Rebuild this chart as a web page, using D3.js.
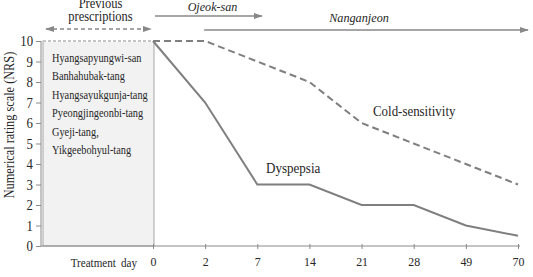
<!DOCTYPE html>
<html>
<head>
<meta charset="utf-8">
<script src="https://cdn.jsdelivr.net/npm/d3@7"></script>
<style>
  body { margin: 0; background: #fff; }
</style>
</head>
<body>
<script>
var width = 533;
var height = 277;
var fontName = "'Liberation Serif'";
var textColor = "#262626";

// chart data
var days = ["0", "2", "7", "14", "21", "28", "49", "70"];
var dyspepsia = [10, 7, 3, 3, 2, 2, 1, 0.5];
var coldSensitivity = [10, 10, 9, 8, 6, 5, 4, 3];
var yTicks = [0, 1, 2, 3, 4, 5, 6, 7, 8, 9, 10];
var previousRx = ["Hyangsapyungwi-san", "Banhahubak-tang", "Hyangsayukgunja-tang",
  "Pyeongjingeonbi-tang", "Gyeji-tang,", "Yikgeebohyul-tang"];

var lineColor = "#7f7f7f";

var svg = d3.select("body").append("svg")
  .attr("width", width)
  .attr("height", height);

// the reference type is a narrow Times; squeeze each text a bit
function squeeze(sel, f) {
  sel.each(function() {
    var w = this.getComputedTextLength();
    d3.select(this)
      .attr("textLength", w * f)
      .attr("lengthAdjust", "spacingAndGlyphs");
  });
}

var defs = svg.append("defs");
defs.append("marker")
  .attr("id", "arrow")
  .attr("viewBox", "0 0 10 10")
  .attr("refX", 9).attr("refY", 5)
  .attr("markerWidth", 7).attr("markerHeight", 7)
  .attr("orient", "auto-start-reverse")
  .append("path")
  .attr("d", "M0,1.5 L10,5 L0,8.5 z")
  .attr("fill", "#888");

var x = d3.scalePoint().domain(days).range([153, 518]);
var y = d3.scaleLinear().domain([0, 10]).range([246, 41]);
var axisLeft = 41;

// grey box for previous prescriptions
svg.append("rect")
  .attr("x", axisLeft + 2)
  .attr("y", y(10))
  .attr("width", x("0") + 1 - axisLeft - 2)
  .attr("height", y(0) - y(10))
  .attr("fill", "#f2f2f2")
  .attr("stroke", "#a6a6a6")
  .attr("stroke-width", 1);

svg.append("line")
  .attr("x1", axisLeft + 2).attr("x2", x("0"))
  .attr("y1", y(10)).attr("y2", y(10))
  .attr("stroke", "#fff").attr("stroke-width", 2);
svg.append("line")
  .attr("x1", axisLeft + 2).attr("x2", x("0"))
  .attr("y1", y(10)).attr("y2", y(10))
  .attr("stroke", "#8a8a8a").attr("stroke-width", 1)
  .attr("stroke-dasharray", "3,2");

var rxText = svg.selectAll(".rx")
  .data(previousRx)
  .enter()
  .append("text")
  .attr("class", "rx")
  .attr("x", 52)
  .attr("y", function(d, i) { return 62 + i * 18.4; })
  .attr("font-size", 12)
  .style("font-family", fontName)
  .style("fill", textColor)
  .text(function(d) { return d; });

// y axis
var gy = svg.append("g")
  .attr("transform", "translate(" + axisLeft + ",0)")
  .call(d3.axisLeft(y).tickValues(yTicks).tickSize(5).tickPadding(3));
gy.selectAll("path, line").attr("stroke", "#8a8a8a");
gy.select(".domain").attr("d", "M0," + y(10) + "V" + y(0));
gy.selectAll("text").attr("font-size", 14.5);

// x axis
var gx = svg.append("g")
  .attr("transform", "translate(0," + y(0) + ")")
  .call(d3.axisBottom(x).tickSize(0).tickPadding(10));
gx.select(".domain").attr("d", "M" + axisLeft + ",0H" + (x("70") + 2)).attr("stroke", "#8a8a8a");
gx.selectAll(".tick line").attr("y1", -2).attr("y2", 3).attr("stroke", "#8a8a8a");
gx.selectAll("text").attr("font-size", 13.5);

var axisText = svg.selectAll("g text")
  .style("font-family", fontName)
  .style("fill", textColor);

// free-standing labels
function label(xp, yp, size, anchor, txt, italic) {
  return svg.append("text")
    .attr("x", xp).attr("y", yp)
    .attr("font-size", size)
    .attr("text-anchor", anchor)
    .attr("font-style", italic ? "italic" : "normal")
    .style("font-family", fontName)
    .style("fill", textColor)
    .text(txt);
}

var treat = label(137, y(0) + 21, 13.5, "end", "Treatment day").attr("word-spacing", 3);

var yTitle = svg.append("text")
  .attr("transform", "translate(14,125) rotate(-90)")
  .attr("text-anchor", "middle")
  .attr("font-size", 15)
  .style("font-family", fontName)
  .style("fill", textColor)
  .text("Numerical rating scale (NRS)");

// lines
var line = d3.line()
  .x(function(d, i) { return x(days[i]); })
  .y(function(d) { return y(d); });

svg.append("path")
  .datum(coldSensitivity)
  .attr("d", line)
  .attr("fill", "none")
  .attr("stroke", lineColor)
  .attr("stroke-width", 2)
  .attr("stroke-dasharray", "7,4");

svg.append("path")
  .datum(dyspepsia)
  .attr("d", line)
  .attr("fill", "none")
  .attr("stroke", lineColor)
  .attr("stroke-width", 2);

var coldLabel = label(373, 116, 15, "start", "Cold-sensitivity");
var dysLabel = label(266, 173, 15, "start", "Dyspepsia");

// treatment period annotations
var prev1 = label(100.5, 7.5, 14.5, "middle", "Previous");
var prev2 = label(100.5, 20.5, 14.5, "middle", "prescriptions");

svg.append("line")
  .attr("x1", 46).attr("x2", 151)
  .attr("y1", 29).attr("y2", 29)
  .attr("stroke", "#888").attr("stroke-width", 1.3)
  .attr("stroke-dasharray", "4,3")
  .attr("marker-start", "url(#arrow)")
  .attr("marker-end", "url(#arrow)");

var ojeok = label(212.5, 11, 13, "middle", "Ojeok-san", true);

svg.append("line")
  .attr("x1", x("0") + 2).attr("x2", 262)
  .attr("y1", 16).attr("y2", 16)
  .attr("stroke", "#888").attr("stroke-width", 1.3)
  .attr("marker-end", "url(#arrow)");

var nangan = label(359, 21.5, 13, "middle", "Nanganjeon", true);

svg.append("line")
  .attr("x1", x("2") - 1).attr("x2", 528)
  .attr("y1", 30).attr("y2", 30)
  .attr("stroke", "#888").attr("stroke-width", 1.3)
  .attr("marker-end", "url(#arrow)");

squeeze(rxText, 0.86);
squeeze(axisText, 0.88);
squeeze(treat, 0.82);
squeeze(yTitle, 0.82);
squeeze(coldLabel, 0.86);
squeeze(dysLabel, 0.87);
squeeze(prev1, 0.86);
squeeze(prev2, 0.86);
squeeze(ojeok, 0.93);
squeeze(nangan, 0.94);
</script>
</body>
</html>
